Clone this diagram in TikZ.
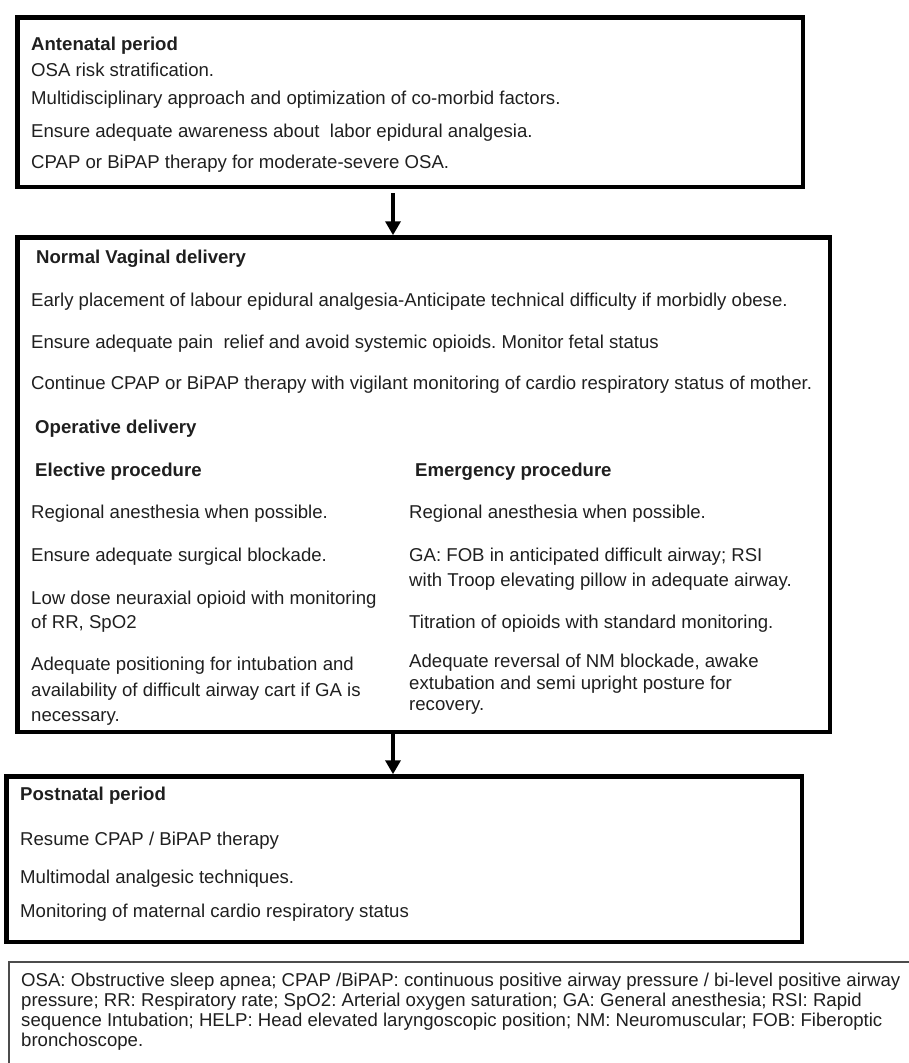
\documentclass[tikz,border=0pt]{standalone}
\usepackage{fontspec}
\setmainfont{Liberation Sans}
\usetikzlibrary{positioning,arrows.meta}
\frenchspacing

\tikzset{
  stagebox/.style={draw,line width=4.5pt,anchor=north west,inner sep=0pt},
  txt/.style={anchor=base west,inner sep=0pt,text=black!88,font=\fontsize{18.6}{22}\selectfont},
  head/.style={txt,font=\fontsize{18.6}{22}\selectfont\bfseries},
  note/.style={txt},
  notebox/.style={draw=black!70,line width=1.4pt},
  flow/.style={-{Triangle[width=15pt,length=14pt]},line width=4pt}
}

\begin{document}
\begin{tikzpicture}[x=1pt,y=-1pt]

  \useasboundingbox (0,0) rectangle (908,1063);

  % Antenatal period
  \node [stagebox,minimum width=785.5pt,minimum height=169.5pt] (ante) at (15.25,15.25) {};
  \node [head] (ante0) at (31,50) {Antenatal period};
  \node [txt,below=26pt of ante0.base west,anchor=base west] (ante1) {OSA risk stratification.};
  \node [txt,below=28pt of ante1.base west,anchor=base west] (ante2) {Multidisciplinary approach and optimization of co-morbid factors.};
  \node [txt,below=33pt of ante2.base west,anchor=base west] (ante3) {Ensure adequate awareness about~ labor epidural analgesia.};
  \node [txt,below=31pt of ante3.base west,anchor=base west] (ante4) {CPAP or BiPAP therapy for moderate-severe OSA.};

  % Normal vaginal and operative delivery
  \node [stagebox,minimum width=812.5pt,minimum height=494.5pt] (vag) at (15.25,235.25) {};
  \node [head] (vag0) at (36,263) {Normal Vaginal delivery};
  \node [txt] (vag1) at (31,306) {Early placement of labour epidural analgesia-Anticipate technical difficulty if morbidly obese.};
  \node [txt,below=42pt of vag1.base west,anchor=base west] (vag2) {Ensure adequate pain~ relief and avoid systemic opioids. Monitor fetal status};
  \node [txt,below=41pt of vag2.base west,anchor=base west] (vag3) {Continue CPAP or BiPAP therapy with vigilant monitoring of cardio respiratory status of mother.};
  \node [head] (oper) at (35,433) {Operative delivery};

  % Elective procedure
  \node [head] (elec0) at (35,476) {Elective procedure};
  \node [txt] (elec1) at (31,518) {Regional anesthesia when possible.};
  \node [txt,below=43pt of elec1.base west,anchor=base west] (elec2) {Ensure adequate surgical blockade.};
  \node [txt,below=43pt of elec2.base west,anchor=base west] (elec3) {Low dose neuraxial opioid with monitoring};
  \node [txt,below=24pt of elec3.base west,anchor=base west] (elec4) {of RR, SpO2};
  \node [txt,below=42pt of elec4.base west,anchor=base west] (elec5) {Adequate positioning for intubation and};
  \node [txt,below=26pt of elec5.base west,anchor=base west] (elec6) {availability of difficult airway cart if GA is};
  \node [txt,below=25pt of elec6.base west,anchor=base west] (elec7) {necessary.};

  % Emergency procedure
  \node [head] (emer0) at (415,476) {Emergency procedure};
  \node [txt] (emer1) at (409,518) {Regional anesthesia when possible.};
  \node [txt,below=43pt of emer1.base west,anchor=base west] (emer2) {GA: FOB in anticipated difficult airway; RSI};
  \node [txt,below=25pt of emer2.base west,anchor=base west] (emer3) {with Troop elevating pillow in adequate airway.};
  \node [txt,below=42pt of emer3.base west,anchor=base west] (emer4) {Titration of opioids with standard monitoring.};
  \node [txt,below=39pt of emer4.base west,anchor=base west] (emer5) {Adequate reversal of NM blockade, awake};
  \node [txt,below=22pt of emer5.base west,anchor=base west] (emer6) {extubation and semi upright posture for};
  \node [txt,below=21pt of emer6.base west,anchor=base west] (emer7) {recovery.};

  % Postnatal period
  \node [stagebox,minimum width=795.5pt,minimum height=165.5pt] (post) at (4.25,774.25) {};
  \node [head] (post0) at (20,800) {Postnatal period};
  \node [txt,below=45pt of post0.base west,anchor=base west] (post1) {Resume CPAP / BiPAP therapy};
  \node [txt,below=38pt of post1.base west,anchor=base west] (post2) {Multimodal analgesic techniques.};
  \node [txt,below=34pt of post2.base west,anchor=base west] (post3) {Monitoring of maternal cardio respiratory status};

  % Arrows between the periods
  \coordinate (a1) at (393,193);
  \draw [flow] (a1) -- (a1 |- vag.north);
  \draw [flow] (a1 |- vag.south) -- (a1 |- post.north);

  % Abbreviations
  \draw [notebox] (9,962) rectangle (916,1072);
  \node [note] (note1) at (21,986) {OSA: Obstructive sleep apnea; CPAP /BiPAP: continuous positive airway pressure / bi-level positive airway};
  \node [note,below=20pt of note1.base west,anchor=base west] (note2) {pressure; RR: Respiratory rate; SpO2: Arterial oxygen saturation; GA: General anesthesia; RSI: Rapid};
  \node [note,below=20pt of note2.base west,anchor=base west] (note3) {sequence Intubation; HELP: Head elevated laryngoscopic position; NM: Neuromuscular; FOB: Fiberoptic};
  \node [note,below=20pt of note3.base west,anchor=base west] (note4) {bronchoscope.};

\end{tikzpicture}
\end{document}
